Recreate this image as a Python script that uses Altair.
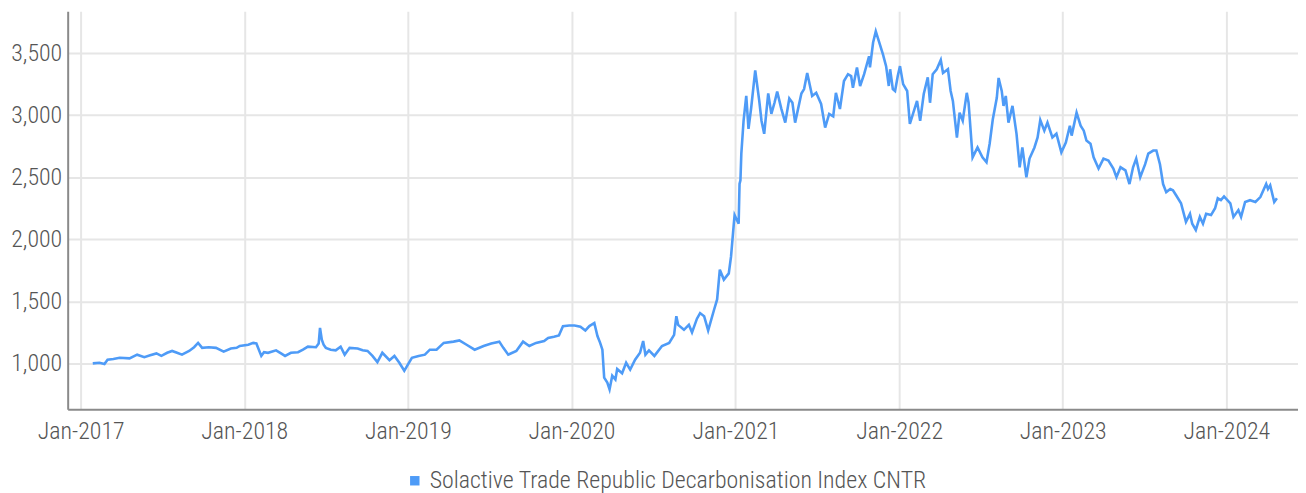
import altair as alt
import pandas as pd

SERIES = "Solactive Trade Republic Decarbonisation Index CNTR"

dates_2017 = ["2017-01-28","2017-02-12","2017-02-23","2017-03-02","2017-03-15","2017-03-29","2017-04-20",
              "2017-05-07","2017-05-23","2017-06-05","2017-06-19","2017-06-30","2017-07-13","2017-07-24",
              "2017-08-04","2017-08-15","2017-08-31","2017-09-11","2017-09-20","2017-09-29","2017-10-14",
              "2017-10-30","2017-11-16","2017-12-02","2017-12-15","2017-12-22"]
vals_2017 = [1000,1005,995,1030,1035,1045,1040,1070,1050,1065,1080,1060,1085,1100,1085,1070,1100,1130,
             1165,1125,1130,1125,1095,1120,1125,1140]

dates_2018 = ["2018-01-10","2018-01-21","2018-01-28","2018-02-08","2018-02-14","2018-02-23","2018-03-13",
              "2018-03-24","2018-04-02","2018-04-15","2018-05-01","2018-05-12","2018-05-23","2018-06-10",
              "2018-06-16","2018-06-19","2018-06-23","2018-06-27","2018-07-02","2018-07-13","2018-07-24",
              "2018-08-04","2018-08-13","2018-08-24","2018-09-11","2018-09-22","2018-10-03","2018-10-14",
              "2018-10-25","2018-11-05","2018-11-21","2018-12-02","2018-12-13","2018-12-24"]
vals_2018 = [1150,1165,1160,1060,1090,1085,1105,1080,1060,1085,1090,1110,1135,1130,1160,1285,1190,1150,
             1125,1110,1105,1135,1070,1125,1120,1105,1100,1060,1010,1085,1025,1060,1005,940]

dates_2019 = ["2019-01-01","2019-01-10","2019-01-25","2019-02-08","2019-02-19","2019-03-06","2019-03-22",
              "2019-04-13","2019-04-26","2019-05-12","2019-05-30","2019-06-19","2019-07-06","2019-07-24",
              "2019-08-02","2019-08-13","2019-08-31","2019-09-15","2019-09-29","2019-10-14","2019-11-01",
              "2019-11-10","2019-11-23","2019-12-04","2019-12-13","2019-12-27"]
vals_2019 = [990,1045,1060,1070,1110,1110,1165,1175,1185,1150,1110,1140,1160,1175,1125,1070,1100,1175,
             1140,1165,1180,1205,1215,1225,1300,1305]

dates_2020 = ["2020-01-08","2020-01-21","2020-02-01","2020-02-10","2020-02-21","2020-02-28","2020-03-05",
              "2020-03-10","2020-03-14","2020-03-21","2020-03-26","2020-04-01","2020-04-08","2020-04-12",
              "2020-04-23","2020-05-02","2020-05-11","2020-05-22","2020-06-02","2020-06-09","2020-06-14",
              "2020-06-22","2020-07-04","2020-07-21","2020-08-06","2020-08-17","2020-08-22","2020-08-26",
              "2020-09-08","2020-09-19","2020-09-26","2020-10-07","2020-10-14","2020-10-23","2020-11-01",
              "2020-11-14","2020-11-21","2020-11-27","2020-12-06","2020-12-17","2020-12-22","2020-12-28",
              "2020-12-30"]
vals_2020 = [1305,1295,1265,1300,1325,1220,1165,1110,885,845,790,900,870,955,920,1005,950,1030,1085,1180,
             1070,1105,1060,1140,1165,1230,1380,1310,1270,1310,1250,1360,1405,1380,1265,1430,1515,1755,
             1675,1725,1860,2115,2195]

dates_2021 = ["2021-01-08","2021-01-10","2021-01-12","2021-01-14","2021-01-19","2021-01-25","2021-01-30",
              "2021-02-05","2021-02-14","2021-02-23","2021-02-28","2021-03-06","2021-03-15","2021-03-22",
              "2021-03-29","2021-04-04","2021-04-13","2021-04-22","2021-05-01","2021-05-08","2021-05-14",
              "2021-05-28","2021-06-03","2021-06-10","2021-06-21","2021-06-30","2021-07-11","2021-07-20",
              "2021-07-29","2021-08-07","2021-08-13","2021-08-22","2021-08-31","2021-09-09","2021-09-16",
              "2021-09-20","2021-09-29","2021-10-06","2021-10-15","2021-10-26","2021-10-28","2021-11-04",
              "2021-11-10","2021-11-17","2021-11-26","2021-12-03","2021-12-09","2021-12-12","2021-12-18",
              "2021-12-23","2021-12-29"]
vals_2021 = [2125,2445,2475,2690,2955,3155,2890,3060,3360,3115,2955,2850,3175,3010,3100,3190,3055,2940,
             3135,3100,2940,3175,3210,3340,3155,3180,3090,2900,3010,2990,3180,3050,3275,3330,3315,3220,
             3385,3235,3330,3475,3385,3585,3675,3595,3490,3395,3235,3370,3210,3195,3315]

dates_2022 = ["2022-01-03","2022-01-10","2022-01-19","2022-01-25","2022-02-01","2022-02-10","2022-02-17",
              "2022-02-25","2022-03-06","2022-03-11","2022-03-17","2022-03-26","2022-04-04","2022-04-09",
              "2022-04-20","2022-04-26","2022-05-01","2022-05-10","2022-05-16","2022-05-23","2022-06-01",
              "2022-06-05","2022-06-14","2022-06-25","2022-07-06","2022-07-15","2022-07-22","2022-07-29",
              "2022-08-07","2022-08-11","2022-08-18","2022-08-22","2022-08-27","2022-09-02","2022-09-11",
              "2022-09-20","2022-09-27","2022-10-03","2022-10-12","2022-10-19","2022-10-30","2022-11-06",
              "2022-11-12","2022-11-21","2022-11-28","2022-12-09","2022-12-18","2022-12-29"]
vals_2022 = [3395,3250,3195,2930,3010,3115,2955,3170,3305,3100,3330,3370,3445,3340,3370,3195,3115,2820,
             3020,2955,3180,3100,2660,2740,2660,2620,2770,2965,3140,3300,3195,3075,3155,2940,3075,2850,
             2580,2740,2500,2650,2740,2820,2960,2875,2940,2820,2850,2700]

dates_2023 = ["2023-01-08","2023-01-17","2023-01-21","2023-02-01","2023-02-10","2023-02-17","2023-02-23",
              "2023-03-04","2023-03-11","2023-03-22","2023-04-02","2023-04-13","2023-04-24","2023-05-01",
              "2023-05-10","2023-05-21","2023-05-30","2023-06-07","2023-06-14","2023-06-23","2023-07-04",
              "2023-07-11","2023-07-22","2023-07-29","2023-08-06","2023-08-13","2023-08-20","2023-08-29",
              "2023-09-04","2023-09-11","2023-09-22","2023-10-03","2023-10-12","2023-10-17","2023-10-25",
              "2023-11-03","2023-11-10","2023-11-17","2023-11-28","2023-12-07","2023-12-13","2023-12-20",
              "2023-12-27"]
vals_2023 = [2780,2915,2835,3020,2915,2875,2795,2770,2660,2570,2650,2635,2570,2500,2580,2555,2445,2580,
             2650,2500,2605,2690,2715,2715,2605,2445,2380,2405,2395,2355,2290,2140,2205,2125,2075,2180,
             2125,2205,2195,2250,2330,2315,2345]

dates_2024 = ["2024-01-10","2024-01-17","2024-01-28","2024-02-03","2024-02-12","2024-02-23","2024-03-06",
              "2024-03-17","2024-03-30","2024-04-03","2024-04-08","2024-04-17","2024-04-23"]
vals_2024 = [2290,2180,2235,2180,2300,2315,2300,2340,2445,2405,2435,2300,2330]

y_ticks = [1000, 1500, 2000, 2500, 3000, 3500]

dates = dates_2017 + dates_2018 + dates_2019 + dates_2020 + dates_2021 + dates_2022 + dates_2023 + dates_2024
vals = vals_2017 + vals_2018 + vals_2019 + vals_2020 + vals_2021 + vals_2022 + vals_2023 + vals_2024

df = pd.DataFrame({"date": dates, "value": vals, "series": SERIES})

BLUE = "#4e9bf7"
FONT = "Roboto Condensed, Roboto, sans-serif"

chart = alt.Chart(df).mark_line(strokeWidth=2.6, interpolate="linear").encode(
    x=alt.X("date:T",
            scale=alt.Scale(domain=["2016-12-03", "2024-06-09"], nice=False),
            axis=alt.Axis(title=None, format="%b-%Y", tickCount={"interval": "year", "step": 1},
                          grid=True, ticks=False, labelPadding=11)),
    y=alt.Y("value:Q",
            scale=alt.Scale(domain=[631, 3837], nice=False, zero=False),
            axis=alt.Axis(title=None, values=y_ticks, format=",d", grid=True, ticks=False,
                          labelPadding=6, minExtent=60, maxExtent=60)),
    color=alt.Color("series:N",
                    scale=alt.Scale(domain=[SERIES], range=[BLUE]),
                    legend=alt.Legend(title=None, orient="none", legendX=337, legendY=460,
                                      direction="horizontal", symbolType="square",
                                      symbolFillColor=BLUE, symbolStrokeColor=BLUE, symbolStrokeWidth=0,
                                      symbolSize=90, labelFontSize=24, labelColor="#555555",
                                      labelFont=FONT, labelFontWeight=300, labelLimit=800,
                                      labelOffset=3, padding=0)),
).properties(
    width=1237, height=400,
    padding={"left": 0, "top": 2, "right": 0, "bottom": 0},
).configure_view(stroke=None).configure_axis(
    domainColor="#8a8a8a", domainWidth=2, gridColor="#e6e6e6", gridWidth=2,
    labelFont=FONT, labelFontSize=24, labelColor="#555555", labelFontWeight=300,
)

chart.save("out.html", embed_options={"renderer": "svg", "actions": False})
